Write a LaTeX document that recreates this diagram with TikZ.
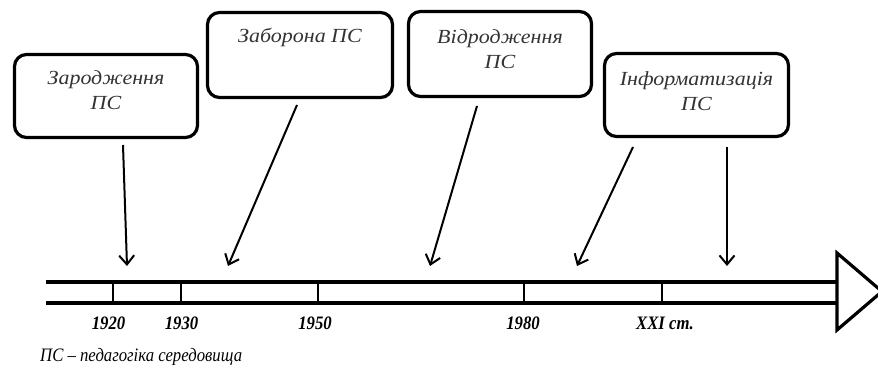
\documentclass[tikz,border=0pt]{standalone}
\usepackage{fontspec}
\setmainfont{Liberation Serif}
\newfontfamily\boxfont[FakeStretch=1.1]{Liberation Serif}
\newfontfamily\narrowfont[FakeStretch=0.88]{Liberation Serif}
\usetikzlibrary{arrows.meta,calc}
\begin{document}
\begin{tikzpicture}[x=1pt,y=-1pt]
\useasboundingbox (0,0) rectangle (878,374);
\tikzset{
  era/.style={draw, line width=3.2pt, rounded corners=12pt, inner sep=0pt},
  eratext/.style={align=center, inner sep=0pt, text=black!80,
    font=\boxfont\itshape\fontsize{20}{25}\selectfont},
  pointer/.style={line width=2pt, -{Straight Barb[length=9pt,width=15pt,line width=2pt]}},
  rail/.style={line width=3.2pt},
  tickline/.style={line width=2.4pt},
  year/.style={inner sep=0pt, font=\narrowfont\bfseries\itshape\fontsize{19}{19}\selectfont},
  note/.style={inner sep=0pt, anchor=west, font=\narrowfont\itshape\fontsize{19}{19}\selectfont}
}
% boxes
\node[era, minimum width=183pt, minimum height=83pt] (b1) at (106,96) {};
\node[era, minimum width=185pt, minimum height=85pt] (b2) at (300,55) {};
\node[era, minimum width=183pt, minimum height=85pt] (b3) at (500,54) {};
\node[era, minimum width=184pt, minimum height=83pt] (b4) at (696.5,95) {};
\node[eratext] (t1) at (106,90.5) {Зародження\\ПС};
\node[eratext] (t2) at (300,37) {Заборона ПС};
\node[eratext] (t3) at (500,49.5) {Відродження\\ПС};
\node[eratext] (t4) at (696.5,91.5) {Інформатизація\\ПС};
% timeline
\coordinate (l0) at (46,282);
\coordinate (l1) at (837,282);
\coordinate (m0) at (46,303);
\coordinate (m1) at (837,303);
\draw[rail] (l0) -- (l1);
\draw[rail] (m0) -- (m1);
\coordinate (h1) at (837,253);
\coordinate (h2) at (882,291.5);
\coordinate (h3) at (837,330);
\draw[rail, fill=white, line join=miter] (h1) -- (h2) -- (h3) -- cycle;
\foreach \x/\n in {113/k1,181/k2,318/k3,524/k4,662/k5}{
  \coordinate (\n a) at (\x,282);
  \coordinate (\n b) at (\x,303);
  \draw[tickline] (\n a) -- (\n b);
}
\node[year] (y1) at (108.5,323) {1920};
\node[year] (y2) at (181.5,323) {1930};
\node[year] (y3) at (315,323) {1950};
\node[year] (y4) at (523,323) {1980};
\node[year] (y5) at (665,323) {XXI ст.};
% arrows
\coordinate (s1) at (123,145);  \coordinate (e1) at (127,266);
\coordinate (s2) at (297,105);  \coordinate (e2) at (228,266);
\coordinate (s3) at (477,106);  \coordinate (e3) at (430,266);
\coordinate (s4) at (633,147);  \coordinate (e4) at (577,266);
\coordinate (s5) at (727,147);  \coordinate (e5) at (727,266);
\foreach \i in {1,...,5}{ \draw[pointer] (s\i) -- (e\i); }
% note
\node[note] (fn) at (40,357) {ПС – педагогіка середовища};
\end{tikzpicture}
\end{document}
